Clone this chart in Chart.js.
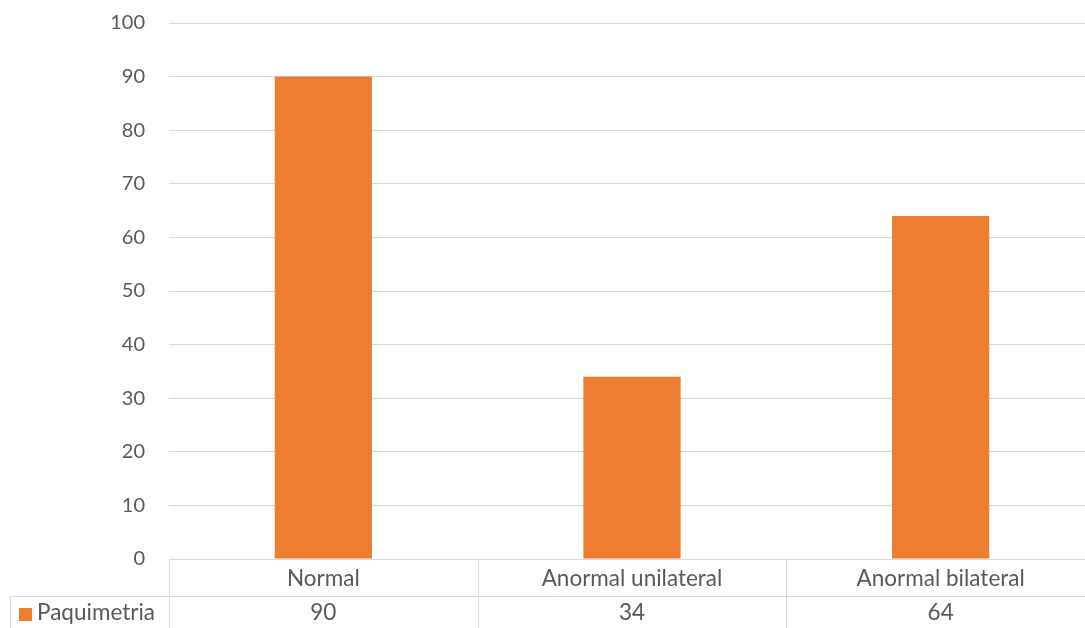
<!DOCTYPE html>
<html>
<head>
<meta charset="utf-8">
<script src="https://cdn.jsdelivr.net/npm/chart.js@4.4.1/dist/chart.umd.min.js"></script>
<style>
  html, body { margin: 0; padding: 0; background: #fff; overflow: hidden; }
  #wrap { width: 1085px; height: 628px; position: relative; overflow: hidden; }
</style>
</head>
<body>
<div id="wrap"><canvas id="c" width="1095" height="628"></canvas></div>
<script>
const categories = ['Normal', 'Anormal unilateral', 'Anormal bilateral'];
const seriesName = 'Paquimetria';
const seriesValues = [90, 34, 64];
const yTicks = [0, 10, 20, 30, 40, 50, 60, 70, 80, 90, 100];

const TEXT = '#595959';
const GRID = '#d9d9d9';
const BAR = '#ed7d31';
const FONT = "Lato, 'Open Sans', sans-serif";
const TICK_SIZE = 20;
const TABLE_SIZE = 22.5;

// Data table drawn beneath the plot area: category row + series row
const dataTable = {
  id: 'dataTable',
  afterDraw(chart) {
    const { ctx, chartArea, scales } = chart;
    const x = scales.x;
    const top = chartArea.bottom;
    const mid = top + 37;
    const bottom = chart.height;
    const legendLeft = 10;
    const n = categories.length;
    const step = (chartArea.right - chartArea.left) / n;

    ctx.save();
    ctx.strokeStyle = GRID;
    ctx.lineWidth = 1;
    ctx.beginPath();
    // horizontal rules
    ctx.moveTo(chartArea.left, top + 0.5); ctx.lineTo(chartArea.right, top + 0.5);
    ctx.moveTo(legendLeft, mid + 0.5); ctx.lineTo(chartArea.right, mid + 0.5);
    // vertical rules
    for (let i = 0; i < n; i++) {
      const vx = Math.round(chartArea.left + i * step) + 0.5;
      ctx.moveTo(vx, top); ctx.lineTo(vx, bottom);
    }
    ctx.moveTo(legendLeft + 0.5, mid); ctx.lineTo(legendLeft + 0.5, bottom);
    ctx.stroke();

    ctx.fillStyle = TEXT;
    ctx.font = TABLE_SIZE + 'px ' + FONT;
    ctx.textAlign = 'center';
    ctx.textBaseline = 'middle';
    categories.forEach((c, i) => {
      const cx = x.getPixelForValue(i);
      ctx.fillText(c, cx, (top + mid) / 2 + 1);
      ctx.fillText(String(seriesValues[i]), cx, (mid + bottom) / 2 + 1);
    });

    // legend key
    ctx.fillStyle = BAR;
    ctx.fillRect(19, 608, 13, 13);
    ctx.fillStyle = TEXT;
    ctx.textAlign = 'left';
    ctx.fillText(seriesName, 37, (mid + bottom) / 2 + 1);
    ctx.restore();
  }
};

new Chart(document.getElementById('c'), {
  type: 'bar',
  data: {
    labels: categories,
    datasets: [{
      label: seriesName,
      data: seriesValues,
      backgroundColor: BAR,
      borderWidth: 0,
      barPercentage: 0.315,
      categoryPercentage: 1.0
    }]
  },
  options: {
    responsive: false,
    animation: false,
    devicePixelRatio: 1,
    layout: { padding: { top: 23, right: 0, left: 0, bottom: 0 } },
    plugins: {
      legend: { display: false },
      tooltip: { enabled: false }
    },
    scales: {
      x: {
        grid: { display: false },
        border: { display: false },
        ticks: { display: false },
        afterFit(scale) {
          scale.height = 69;
          scale.paddingLeft = 0; scale.paddingRight = 0;
        }
      },
      y: {
        min: 0,
        max: 100,
        afterBuildTicks(scale) { scale.ticks = yTicks.map(v => ({ value: v })); },
        grid: { color: GRID, lineWidth: 1, drawTicks: false },
        border: { display: false },
        ticks: {
          color: TEXT,
          font: { family: FONT, size: TICK_SIZE },
          padding: 24
        },
        afterFit(scale) {
          scale.width = 169;
          scale.paddingTop = 0; scale.paddingBottom = 0;
        }
      }
    }
  },
  plugins: [dataTable]
});
</script>
</body>
</html>
